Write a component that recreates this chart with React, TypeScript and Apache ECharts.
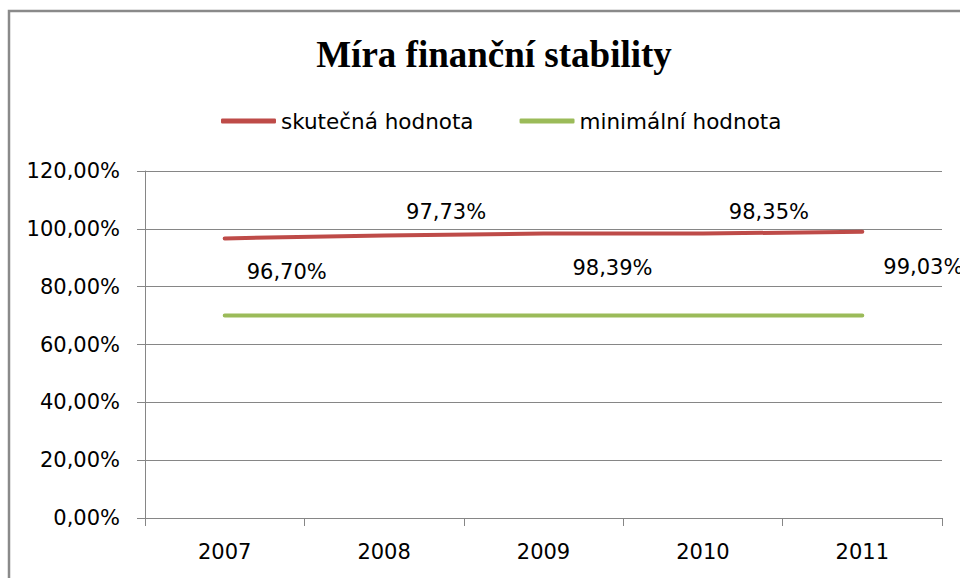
import React, { useEffect, useRef } from "react";
import * as echarts from "echarts";

const categories = ["2007", "2008", "2009", "2010", "2011"];
const actualValues = [96.7, 97.73, 98.39, 98.35, 99.03];
const minimalValues = [70, 70, 70, 70, 70];
const yTicks = { min: 0, max: 120, interval: 20 };
const seriesNames = ["skutečná hodnota", "minimální hodnota"];
const titleText = "Míra finanční stability";

// label placement (pixel offsets from point), styling only
const labelPlacement: [number, number][] = [
  [62, 34],
  [62, -23],
  [69, 35],
  [66, -22],
  [61, 35],
];

const fmt = (v: number) => v.toFixed(2).replace(".", ",") + "%";

export default function App() {
  const ref = useRef<HTMLDivElement>(null);
  useEffect(() => {
    if (!ref.current) return;
    const chart = echarts.init(ref.current, null, { renderer: "svg" });
    const font = "DejaVu Sans";
    const actualData = actualValues.map((v, i) => ({
      value: v,
      label: {
        show: true,
        position: labelPlacement[i],
        align: "center",
        verticalAlign: "middle",
      },
    }));
    chart.setOption({
      animation: false,
      backgroundColor: "#ffffff",
      title: {
        text: titleText,
        left: 489,
        top: 31,
        textAlign: "center",
        textStyle: {
          fontFamily: "Liberation Serif",
          fontWeight: "bold",
          fontSize: 37,
          color: "#000",
        },
      },
      legend: {
        left: 216,
        top: 105,
        itemWidth: 55,
        itemHeight: 5,
        itemGap: 46,
        icon: "roundRect",
        textStyle: { fontFamily: font, fontSize: 21.5, color: "#000" },
        data: seriesNames,
      },
      grid: { left: 145, right: 18, top: 171, bottom: 60 },
      xAxis: {
        type: "category",
        data: categories,
        boundaryGap: true,
        axisLine: { lineStyle: { color: "#868686", width: 1 } },
        axisTick: { show: true, length: 8, alignWithLabel: false, lineStyle: { color: "#868686" } },
        axisLabel: { fontFamily: font, fontSize: 21, color: "#000", margin: 23 },
      },
      yAxis: {
        type: "value",
        min: yTicks.min,
        max: yTicks.max,
        interval: yTicks.interval,
        axisLine: { show: true, lineStyle: { color: "#868686", width: 1 } },
        axisTick: { show: true, length: 8, lineStyle: { color: "#868686" } },
        splitLine: { show: true, lineStyle: { color: "#868686", width: 1 } },
        axisLabel: {
          fontFamily: font,
          fontSize: 21,
          color: "#000",
          margin: 25,
          formatter: (v: number) => fmt(v),
        },
      },
      graphic: [
        {
          type: "rect",
          shape: { x: 9, y: 11, width: 1000, height: 700 },
          style: { fill: "none", stroke: "#8a8a8a", lineWidth: 2.5 },
          silent: true,
          z: 100,
        },
      ],
      series: [
        {
          name: seriesNames[0],
          type: "line",
          data: actualData,
          symbol: "circle",
          symbolSize: 0,
          showSymbol: true,
          lineStyle: { color: "#BE4B48", width: 4, cap: "round" },
          itemStyle: { color: "#BE4B48" },
          label: {
            fontFamily: font,
            fontSize: 21,
            color: "#000",
            formatter: (p: any) => fmt(p.value),
          },
        },
        {
          name: seriesNames[1],
          type: "line",
          data: minimalValues,
          symbol: "none",
          lineStyle: { color: "#9BBB59", width: 4, cap: "round" },
          itemStyle: { color: "#9BBB59" },
        },
      ],
    });
    return () => chart.dispose();
  }, []);
  return (
    <div
      ref={ref}
      style={{ position: "fixed", left: 0, top: 0, width: 960, height: 578 }}
    />
  );
}
